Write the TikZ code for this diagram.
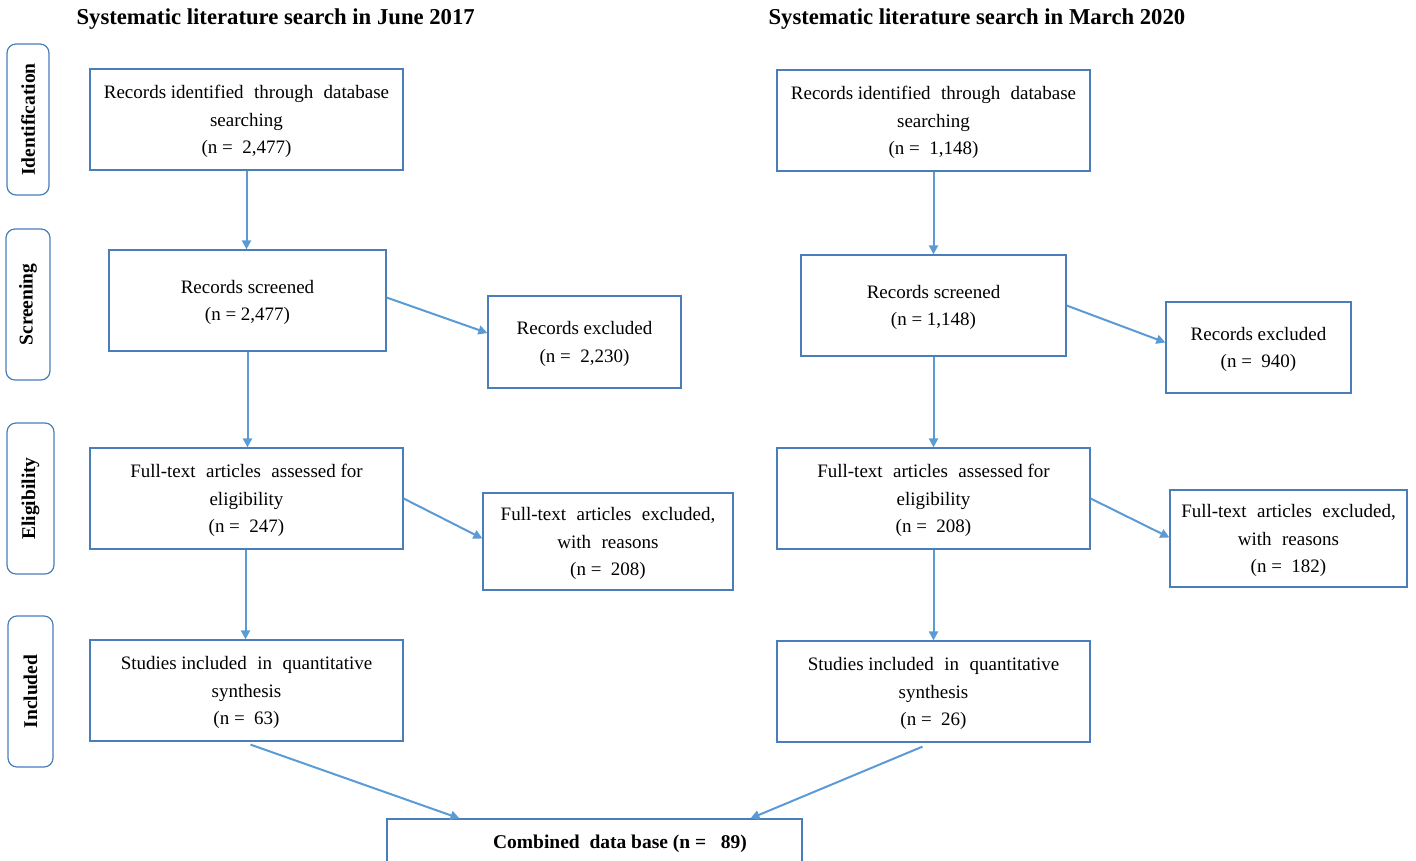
\documentclass[tikz,border=0pt]{standalone}
\usepackage{fontspec}
\setmainfont{Liberation Serif}
\usetikzlibrary{arrows.meta,calc}
\definecolor{boxc}{HTML}{4A7EBB}
\definecolor{arrc}{HTML}{5B9BD5}
\tikzset{
  box/.style={draw=boxc,line width=1.2pt,rectangle,align=center,inner sep=0pt,
    text depth=0pt,font=\fontsize{19}{27.5}\selectfont,text=black},
  side/.style={draw=boxc,line width=1.2pt,rounded corners=9pt,inner sep=0pt},
  sidelab/.style={rotate=90,font=\bfseries\fontsize{19.5}{22}\selectfont},
  ttl/.style={font=\bfseries\fontsize{22.7}{25}\selectfont,anchor=west},
  arr/.style={draw=arrc,line width=2pt,-{Triangle[length=9pt,width=9pt]}},
}
\newcommand{\ws}{\hspace{0.3em}}
\begin{document}
\begin{tikzpicture}[x=1pt,y=-1pt]
\useasboundingbox (0,0) rectangle (1416,861);
% titles
\node[ttl] (t1) at (73,19) {Systematic literature search in June 2017};
\node[ttl] (t2) at (765,19) {Systematic literature search in March 2020};
% side labels
\node[side,minimum width=42pt,minimum height=151pt] (s1) at (28,119.5) {};
\node[sidelab] at (s1) {Identification};
\node[side,minimum width=44pt,minimum height=151pt] (s2) at (28,304.5) {};
\node[sidelab] at (s2) {Screening};
\node[side,minimum width=47pt,minimum height=151pt] (s3) at (30.5,498.5) {};
\node[sidelab] at (s3) {Eligibility};
\node[side,minimum width=45pt,minimum height=151pt] (s4) at (30.5,691.5) {};
\node[sidelab] at (s4) {Included};
% left column
\node[box,minimum width=313pt,minimum height=101pt] (L1) at (246.5,119.5)
  {Records identified\ws{} through\ws{} database\\searching\\(n =\ \ 2,477)};
\node[box,minimum width=277pt,minimum height=101pt] (L2) at (247.5,300.5)
  {Records screened\\(n = 2,477)};
\node[box,minimum width=193pt,minimum height=92pt] (L2x) at (584.5,342)
  {Records excluded\\(n =\ \ 2,230)};
\node[box,minimum width=313pt,minimum height=101pt] (L3) at (246.5,498.5)
  {Full-text\ws{} articles\ws{} assessed for\\eligibility\\(n =\ \ 247)};
\node[box,minimum width=250pt,minimum height=97pt] (L3x) at (608,541.5)
  {Full-text\ws{} articles\ws{} excluded,\\with\ws{} reasons\\(n =\ \ 208)};
\node[box,minimum width=313pt,minimum height=101pt] (L4) at (246.5,690.5)
  {Studies included\ws{} in\ws{} quantitative\\synthesis\\(n =\ \ 63)};
% right column
\node[box,minimum width=313pt,minimum height=101pt] (R1) at (933.5,120.5)
  {Records identified\ws{} through\ws{} database\\searching\\(n =\ \ 1,148)};
\node[box,minimum width=265pt,minimum height=101pt] (R2) at (933.5,305.5)
  {Records screened\\(n = 1,148)};
\node[box,minimum width=185pt,minimum height=91pt] (R2x) at (1258.5,347.5)
  {Records excluded\\(n =\ \ 940)};
\node[box,minimum width=313pt,minimum height=101pt] (R3) at (933.5,498.5)
  {Full-text\ws{} articles\ws{} assessed for\\eligibility\\(n =\ \ 208)};
\node[box,minimum width=237pt,minimum height=97pt] (R3x) at (1288.5,538.5)
  {Full-text\ws{} articles\ws{} excluded,\\with\ws{} reasons\\(n =\ \ 182)};
\node[box,minimum width=313pt,minimum height=101pt] (R4) at (933.5,691.5)
  {Studies included\ws{} in\ws{} quantitative\\synthesis\\(n =\ \ 26)};
% bottom
\node[box,minimum width=415pt,minimum height=50pt] (B) at (594.5,844) {};
\node[font=\bfseries\fontsize{19.5}{22}\selectfont,inner sep=0pt] (Bt) at (620,844)
  {Combined\ \ data base (n =\ \ \ 89)};
% arrows
\draw[arr] (L1.south) -- (L1.south |- L2.north);
\draw[arr] (L2.south) -- (L2.south |- L3.north);
\draw[arr] ([xshift=-1pt]L3.south) -- ([xshift=-1pt]L3.south |- L4.north);
\draw[arr] ([yshift=3pt]L2.east) -- ([yshift=9pt]L2x.west);
\draw[arr] (L3.east) -- ([yshift=3pt]L3x.west);
\draw[arr] (R1.south) -- (R1.south |- R2.north);
\draw[arr] (R2.south) -- (R2.south |- R3.north);
\draw[arr] (R3.south) -- (R3.south |- R4.north);
\draw[arr] (R2.east) -- ([yshift=5pt]R2x.west);
\draw[arr] (R3.east) -- ([yshift=1pt]R3x.west);
\draw[arr] ([xshift=4pt,yshift=-3pt]L4.south) -- ([xshift=-135pt]B.north);
\draw[arr] ([xshift=-11pt,yshift=-4pt]R4.south) -- ([xshift=156pt]B.north);
\end{tikzpicture}
\end{document}
